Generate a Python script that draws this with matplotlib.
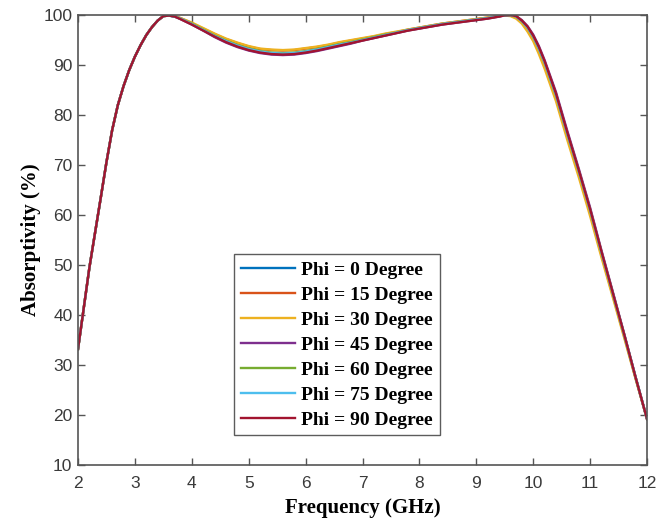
import matplotlib.pyplot as plt
import numpy as np

# ==========================================
# DATA
# ==========================================
freq = [2.0, 2.2, 2.4, 2.5, 2.6, 2.7, 2.8, 2.9, 3.0, 3.1, 3.2, 3.3, 3.4, 3.5, 3.6, 3.7, 3.8,
        4.0, 4.2, 4.4, 4.6, 4.8, 5.0, 5.2, 5.4, 5.6, 5.8,
        6.0, 6.2, 6.4, 6.6, 6.8, 7.0, 7.2, 7.4, 7.6, 7.8,
        8.0, 8.2, 8.4, 8.6, 8.8, 9.0, 9.2, 9.4, 9.5, 9.6, 9.7, 9.8, 9.9,
        10.0, 10.1, 10.2, 10.4, 10.6, 10.8, 11.0, 11.2, 11.4, 11.6, 11.8, 12.0]

phi_0 = [33.2, 49.5, 63.5, 70.6, 77.0, 82.0, 85.8, 89.0, 91.7, 94.0, 96.0, 97.6, 98.9, 99.8, 99.9, 99.7, 99.3,
         98.2, 97.0, 95.8, 94.7, 93.8, 93.1, 92.6, 92.3, 92.2, 92.3,
         92.6, 93.0, 93.5, 94.0, 94.5, 95.0, 95.5, 96.0, 96.5, 97.0,
         97.4, 97.8, 98.2, 98.5, 98.8, 99.1, 99.4, 99.8, 99.95, 100.0, 99.7, 98.8, 97.5,
         95.7, 93.3, 90.5, 84.0, 76.2, 68.8, 61.0, 52.5, 44.3, 36.0, 27.5, 19.2]

phi_15 = [33.2, 49.5, 63.5, 70.6, 77.0, 82.0, 85.8, 89.0, 91.7, 94.0, 96.0, 97.6, 98.9, 99.8, 99.9, 99.8, 99.4,
          98.4, 97.3, 96.2, 95.2, 94.4, 93.7, 93.2, 93.0, 92.9, 93.0,
          93.3, 93.6, 94.0, 94.5, 94.9, 95.3, 95.7, 96.2, 96.6, 97.1,
          97.5, 97.9, 98.3, 98.6, 98.9, 99.2, 99.5, 99.8, 99.95, 99.9, 99.5, 98.6, 97.1,
          95.2, 92.7, 89.9, 83.4, 75.6, 68.2, 60.4, 52.0, 43.9, 35.7, 27.3, 19.2]

phi_30 = [33.2, 49.5, 63.5, 70.6, 77.0, 82.0, 85.8, 89.0, 91.7, 94.0, 96.0, 97.6, 98.9, 99.8, 99.9, 99.8, 99.4,
          98.5, 97.4, 96.3, 95.3, 94.5, 93.8, 93.3, 93.1, 93.0, 93.1,
          93.4, 93.7, 94.1, 94.6, 95.0, 95.4, 95.8, 96.3, 96.7, 97.1,
          97.5, 97.9, 98.3, 98.6, 98.9, 99.2, 99.5, 99.8, 99.9, 99.8, 99.3, 98.3, 96.7,
          94.8, 92.2, 89.3, 82.8, 75.0, 67.6, 59.8, 51.5, 43.5, 35.4, 27.2, 19.2]

phi_45 = [33.2, 49.5, 63.5, 70.6, 77.0, 82.0, 85.8, 89.0, 91.7, 94.0, 96.0, 97.6, 98.9, 99.8, 99.9, 99.7, 99.2,
          98.1, 96.9, 95.6, 94.5, 93.6, 92.9, 92.4, 92.1, 92.0, 92.1,
          92.4, 92.8, 93.3, 93.8, 94.3, 94.9, 95.4, 95.9, 96.4, 96.9,
          97.3, 97.7, 98.1, 98.4, 98.7, 99.0, 99.3, 99.7, 99.95, 100.0, 99.8, 99.0, 97.8,
          96.1, 93.8, 91.0, 84.6, 76.8, 69.3, 61.5, 52.9, 44.6, 36.2, 27.6, 19.2]

phi_60 = [33.2, 49.5, 63.5, 70.6, 77.0, 82.0, 85.8, 89.0, 91.7, 94.0, 96.0, 97.6, 98.9, 99.8, 99.9, 99.7, 99.3,
          98.3, 97.1, 95.9, 94.9, 94.0, 93.3, 92.8, 92.5, 92.4, 92.5,
          92.8, 93.2, 93.7, 94.2, 94.6, 95.1, 95.6, 96.1, 96.5, 97.0,
          97.4, 97.8, 98.2, 98.5, 98.8, 99.1, 99.4, 99.8, 99.95, 100.0, 99.7, 98.8, 97.5,
          95.7, 93.3, 90.5, 84.0, 76.2, 68.8, 61.0, 52.5, 44.3, 36.0, 27.5, 19.2]

phi_75 = [33.2, 49.5, 63.5, 70.6, 77.0, 82.0, 85.8, 89.0, 91.7, 94.0, 96.0, 97.6, 98.9, 99.8, 99.9, 99.7, 99.3,
          98.2, 97.0, 95.8, 94.8, 93.9, 93.2, 92.7, 92.4, 92.3, 92.4,
          92.7, 93.1, 93.6, 94.1, 94.5, 95.0, 95.5, 96.0, 96.5, 97.0,
          97.4, 97.8, 98.2, 98.5, 98.8, 99.1, 99.4, 99.8, 99.95, 100.0, 99.7, 98.8, 97.5,
          95.7, 93.3, 90.5, 84.0, 76.2, 68.8, 61.0, 52.5, 44.3, 36.0, 27.5, 19.2]

phi_90 = [33.2, 49.5, 63.5, 70.6, 77.0, 82.0, 85.8, 89.0, 91.7, 94.0, 96.0, 97.6, 98.9, 99.8, 99.9, 99.7, 99.2,
          98.1, 96.9, 95.7, 94.6, 93.7, 93.0, 92.5, 92.2, 92.1, 92.2,
          92.5, 92.9, 93.4, 93.9, 94.4, 94.9, 95.4, 95.9, 96.4, 96.9,
          97.3, 97.7, 98.1, 98.4, 98.7, 99.0, 99.3, 99.7, 99.95, 100.0, 99.8, 98.9, 97.7,
          95.9, 93.6, 90.8, 84.3, 76.5, 69.0, 61.2, 52.7, 44.4, 36.1, 27.5, 19.2]

labels = ['Phi = 0 Degree', 'Phi = 15 Degree', 'Phi = 30 Degree', 'Phi = 45 Degree',
          'Phi = 60 Degree', 'Phi = 75 Degree', 'Phi = 90 Degree']
series = [phi_0, phi_15, phi_30, phi_45, phi_60, phi_75, phi_90]
colors = ['#0072BD', '#D95319', '#EDB120', '#7E2F8E', '#77AC30', '#4DBEEE', '#A2142F']

# ==========================================
# PLOTTING
# ==========================================
fig = plt.figure(figsize=(6.67, 5.2), dpi=100)
ax = fig.add_axes([0.117, 0.106, 0.853, 0.865])

for y, c, lab in zip(series, colors, labels):
    ax.plot(freq, y, color=c, linewidth=1.7, label=lab, solid_joinstyle='round')

ax.set_xlim(2, 12)
ax.set_ylim(10, 100)
ax.set_xticks(np.arange(2, 13, 1))
ax.set_yticks(np.arange(10, 101, 10))

tick_font = {'family': 'Liberation Sans', 'size': 12.5}
ax.set_xticklabels([str(v) for v in range(2, 13)], fontdict=tick_font, color='#3a3a3a')
ax.set_yticklabels([str(v) for v in range(10, 101, 10)], fontdict=tick_font, color='#3a3a3a')
ax.tick_params(direction='in', top=True, right=True, length=5, width=1, color='#555555')
ax.tick_params(axis='x', pad=8)
ax.tick_params(axis='y', pad=4)
for s in ax.spines.values():
    s.set_color('#555555')
    s.set_linewidth(1.2)

ax.set_xlabel('Frequency (GHz)', family='Liberation Serif', fontweight='bold', fontsize=15, labelpad=5)
ax.set_ylabel('Absorptivity (%)', family='Liberation Serif', fontweight='bold', fontsize=15, labelpad=2)

leg = ax.legend(loc='center', bbox_to_anchor=(0.455, 0.267), handlelength=2.8,
                prop={'family': 'Liberation Serif', 'weight': 'bold', 'size': 14},
                frameon=True, fancybox=False, edgecolor='#333333',
                borderpad=0.35, labelspacing=0.38, handletextpad=0.3, borderaxespad=0)
leg.get_frame().set_linewidth(1.0)

plt.savefig('out.png', dpi=100)
